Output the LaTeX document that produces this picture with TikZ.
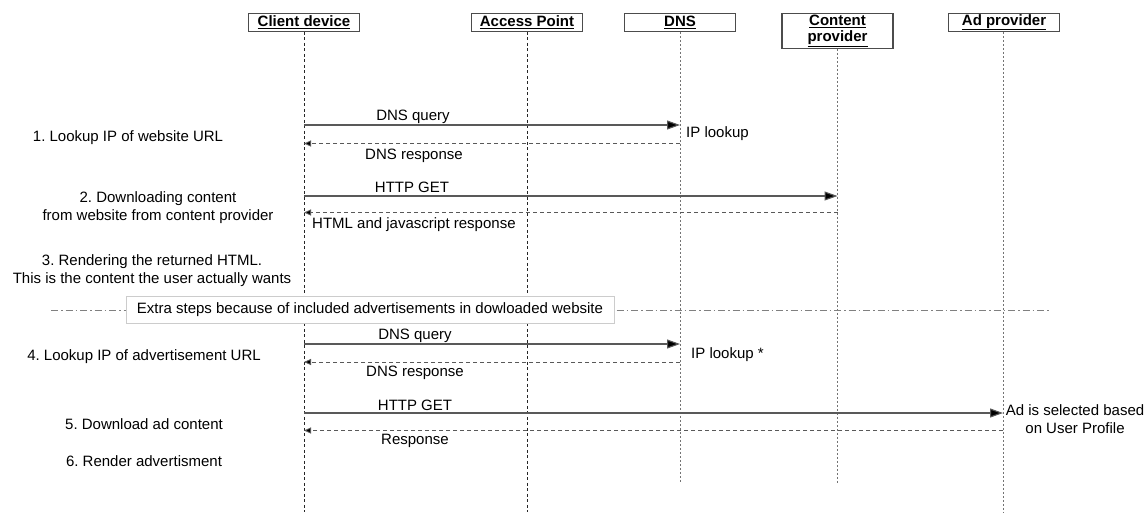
\documentclass[tikz,border=0pt]{standalone}
\usepackage{fontspec}
\setmainfont{Liberation Sans}
\usetikzlibrary{arrows.meta}
\begin{document}
\frenchspacing
\begin{tikzpicture}[x=1pt,y=-1pt,
  font=\fontsize{15}{18}\selectfont,
  actor/.style={draw=black!70, line width=1.2pt, fill=white, minimum width=111pt,
    minimum height=18pt, inner sep=0pt, anchor=north, align=center,
    font=\fontsize{15}{17}\selectfont\bfseries},
  lifeA/.style={black!85, line width=0.7pt, dash pattern=on 3pt off 2.5pt},
  lifeB/.style={black!55, line width=1pt, dash pattern=on 2pt off 2pt},
  req/.style={black!65, line width=1.1pt, -{Triangle[length=13pt,width=9pt,fill=black]}},
  resp/.style={black!65, line width=0.9pt, dash pattern=on 4pt off 3pt, -{Triangle[length=7pt,width=6pt,fill=black]}},
  lbl/.style={inner sep=0pt, anchor=center},
  txt/.style={inner sep=0pt, align=center, anchor=center}
]
\useasboundingbox (0,0) rectangle (1147,512);
\fill[white] (0,0) rectangle (1147,512);

% actors
\node[actor] (cd) at (304,12.7) {\underline{Client device}};
\node[actor] (ap) at (527,12.7) {\underline{Access Point}};
\node[actor] (dns) at (680,12.7) {\underline{DNS}};
\node[actor, minimum height=35pt] (cp) at (837.5,12.7) {\underline{Content}\\[-1pt]\underline{provider}};
\node[actor] (ad) at (1004,12.7) {\underline{Ad provider}};

% lifeline ends
\coordinate (cdE) at (304,512);
\coordinate (apE) at (527,512);
\coordinate (dnsE) at (680,483);
\coordinate (cpE) at (837.5,483);
\coordinate (adE) at (1003,512);

\draw[lifeA] (cd.south) -- (cdE);
\draw[lifeA] (ap.south) -- (apE);
\draw[lifeB] (dns.south) -- (dnsE);
\draw[lifeB] (cp.south) -- (cpE);
\draw[lifeB] (ad.south -| adE) -- (adE);

% left step labels
\node[txt] (s1) at (128,138) {1. Lookup IP of website URL};
\node[txt] (s2) at (158,208) {2. Downloading content\\from website from content provider};
\node[txt] (s3) at (152,271) {3. Rendering the returned HTML.\\This is the content the user actually wants};
\node[txt] (s4) at (144,357) {4. Lookup IP of advertisement URL};
\node[txt] (s5) at (144,424) {5. Download ad content};
\node[txt] (s6) at (144,461) {6. Render advertisment};

% message anchor points
\coordinate (c1) at (304,125);   \coordinate (d1) at (680,125);
\coordinate (c2) at (304,143.5); \coordinate (d2) at (680,143.5);
\coordinate (c3) at (304,196);   \coordinate (p3) at (837.5,196);
\coordinate (c4) at (304,212.5); \coordinate (p4) at (837.5,212.5);
\coordinate (c6) at (304,344);   \coordinate (d6) at (680,344);
\coordinate (c7) at (304,362);   \coordinate (d7) at (680,362);
\coordinate (c8) at (304,413);   \coordinate (a8) at (1003,413);
\coordinate (c9) at (304,430.5); \coordinate (a9) at (1003,430.5);

\draw[req] (c1) -- (d1);
\draw[resp] (d2) -- (c2);
\draw[req] (c3) -- (p3);
\draw[resp] (p4) -- (c4);
\draw[req] (c6) -- (d6);
\draw[resp] (d7) -- (c7);
\draw[req] (c8) -- (a8);
\draw[resp] (a9) -- (c9);

\node[lbl] (m1) at (413,117) {DNS query};
\node[lbl] (m2) at (414,156) {DNS response};
\node[lbl, anchor=west] (n1) at (686,134) {IP lookup};
\node[lbl] (m3) at (412,187) {HTTP GET};
\node[lbl, anchor=west] (m4) at (312,225) {HTML and javascript response};
\node[lbl] (m6) at (415,336) {DNS query};
\node[lbl] (m7) at (415,373) {DNS response};
\node[lbl, anchor=west] (n2) at (691,355) {IP lookup *};
\node[lbl] (m8) at (415,405) {HTTP GET};
\node[lbl] (m9) at (415,441) {Response};
\node[txt] (n3) at (1075,419.5) {Ad is selected based\\on User Profile};

% separator
\coordinate (sepL) at (51,310);
\coordinate (sepR) at (1050,310);
\draw[black!50, line width=0.9pt, dash pattern=on 7pt off 3pt on 1.5pt off 3pt] (sepL) -- (sepR);
\node[draw=black!20, line width=0.8pt, fill=white, minimum width=488pt, minimum height=27pt, inner sep=0pt] (sep) at (370,309.5) {Extra steps because of included advertisements in dowloaded website};
\end{tikzpicture}
\end{document}
